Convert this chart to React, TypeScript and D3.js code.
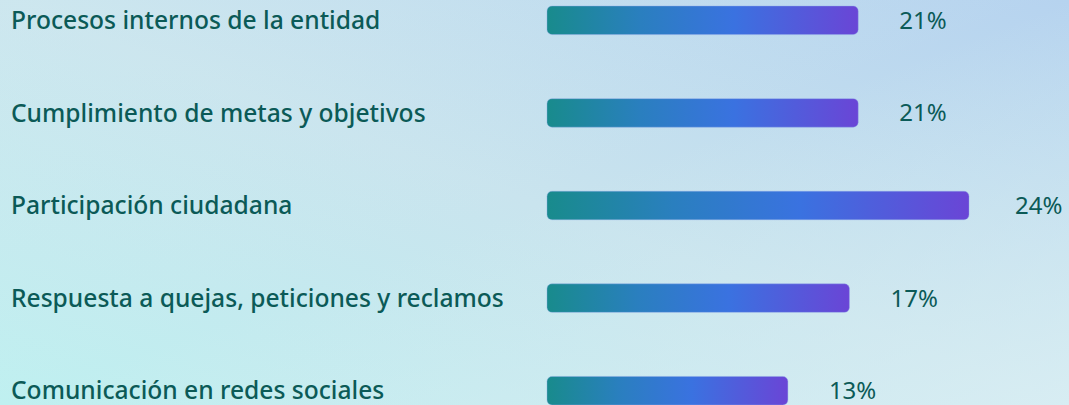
import React from "react";
import * as d3 from "d3";

const categories = [
  "Procesos internos de la entidad",
  "Cumplimiento de metas y objetivos",
  "Participación ciudadana",
  "Respuesta a quejas, peticiones y reclamos",
  "Comunicación en redes sociales",
];
// bar lengths as drawn in the picture (percent units)
const barValues = [17.7, 17.7, 24, 17.2, 13.7];
// printed labels
const valueLabels = ["21%", "21%", "24%", "17%", "13%"];

const W = 1069;
const H = 405;

export default function App() {
  const x = d3.scaleLinear().domain([0, 24]).range([547, 969]);
  const y = d3
    .scaleBand<string>()
    .domain(categories)
    .range([-26, 437])
    .paddingInner(0.7)
    .paddingOuter(0.35);
  const bw = 28.5;
  const font = "'Segoe UI', 'Noto Sans', 'Open Sans', sans-serif";
  return (
    <svg
      width={W}
      height={H}
      style={{ position: "fixed", left: 0, top: 0, display: "block" }}
    >
      <defs>
        <linearGradient id="bg" x1="0" y1="1" x2="1" y2="0">
          <stop offset="0" stopColor="#bff0f0" />
          <stop offset="0.5" stopColor="#c9e4ee" />
          <stop offset="1" stopColor="#b6d3ef" />
        </linearGradient>
        <linearGradient id="bg2" x1="0" y1="0" x2="1" y2="1">
          <stop offset="0" stopColor="#d4ecf0" stopOpacity="0.35" />
          <stop offset="0.5" stopColor="#d4ecf0" stopOpacity="0" />
          <stop offset="1" stopColor="#dbeff4" stopOpacity="0.8" />
        </linearGradient>
        <linearGradient id="bar" x1="0" y1="0" x2="1" y2="0">
          <stop offset="0" stopColor="#188b8c" />
          <stop offset="0.3" stopColor="#2a7fbf" />
          <stop offset="0.6" stopColor="#3a72e0" />
          <stop offset="1" stopColor="#6a45d6" />
        </linearGradient>
      </defs>
      <rect x={0} y={0} width={W} height={H} fill="url(#bg)" />
      <rect x={0} y={0} width={W} height={H} fill="url(#bg2)" />
      {categories.map((c, i) => {
        const cy = (y(c) as number) + y.bandwidth() / 2;
        const x1 = x(barValues[i]);
        return (
          <g key={c}>
            <text
              x={11}
              y={cy}
              dy="0.35em"
              fontFamily={font}
              fontSize={24.6}
              fontWeight={500}
              fill="#0b5a57"
            >
              {c}
            </text>
            <rect
              x={x(0)}
              y={cy - bw / 2}
              width={x1 - x(0)}
              height={bw}
              rx={5}
              fill="url(#bar)"
              stroke="#8fa8e8"
              strokeOpacity={0.4}
            />
            <text
              x={x1 + (i === 2 ? 46 : 41)}
              y={cy}
              dy="0.35em"
              fontFamily={font}
              fontSize={24}
              fill="#0b5a57"
            >
              {valueLabels[i]}
            </text>
          </g>
        );
      })}
    </svg>
  );
}
